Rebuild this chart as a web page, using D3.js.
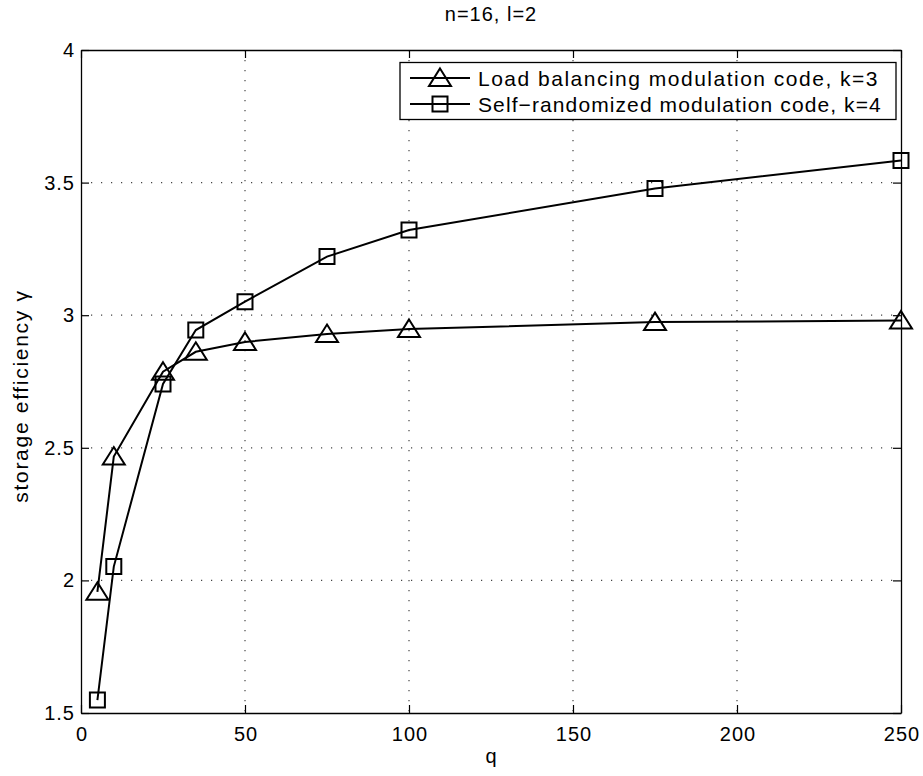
<!DOCTYPE html>
<html>
<head>
<meta charset="utf-8">
<script src="https://cdn.jsdelivr.net/npm/d3@7"></script>
<style>
  html, body { margin: 0; padding: 0; background: #fff; }
  svg { display: block; font-family: "Liberation Sans", Arial, Helvetica, sans-serif; }
</style>
</head>
<body>
<svg id="chart" width="923" height="776"></svg>
<script>
// Storage efficiency vs q for two modulation codes (n=16, l=2)
const qValues = [5, 10, 25, 35, 50, 75, 100, 175, 250];
const loadBalancing = [1.957, 2.467, 2.787, 2.862, 2.899, 2.929, 2.948, 2.974, 2.98];
const selfRandomized = [1.549, 2.052, 2.741, 2.944, 3.051, 3.221, 3.321, 3.478, 3.583];
const xTicks = [0, 50, 100, 150, 200, 250];
const yTicks = [1.5, 2, 2.5, 3, 3.5, 4];
const seriesNames = ["Load balancing modulation code, k=3", "Self\u2212randomized modulation code, k=4"];

const svg = d3.select("#chart");
const m = { left: 81, right: 901, top: 50, bottom: 713 };

const x = d3.scaleLinear().domain([0, 250]).range([m.left, m.right]);
const y = d3.scaleLinear().domain([1.5, 4]).range([m.bottom, m.top]);

// dotted grid at interior ticks
const grid = svg.append("g").attr("stroke", "#444").attr("stroke-width", 1.2)
  .attr("stroke-dasharray", "1.2,8.8");
grid.selectAll("line.gx").data(xTicks.slice(1, -1)).join("line")
  .attr("x1", d => x(d)).attr("x2", d => x(d))
  .attr("y1", m.top).attr("y2", m.bottom);
grid.selectAll("line.gy").data(yTicks.slice(1, -1)).join("line")
  .attr("x1", m.left).attr("x2", m.right)
  .attr("y1", d => y(d)).attr("y2", d => y(d));

// axes with inward ticks on all sides
const tickLen = 8;
const axB = svg.append("g").attr("transform", `translate(0,${m.bottom})`)
  .call(d3.axisBottom(x).tickValues(xTicks).tickSizeInner(-tickLen).tickSizeOuter(0).tickPadding(14));
const axT = svg.append("g").attr("transform", `translate(0,${m.top})`)
  .call(d3.axisTop(x).tickValues(xTicks).tickSizeInner(-tickLen).tickSizeOuter(0).tickFormat(""));
const axL = svg.append("g").attr("transform", `translate(${m.left},0)`)
  .call(d3.axisLeft(y).tickValues(yTicks).tickSizeInner(-tickLen).tickSizeOuter(0).tickPadding(6)
    .tickFormat(d3.format("~g")));
const axR = svg.append("g").attr("transform", `translate(${m.right},0)`)
  .call(d3.axisRight(y).tickValues(yTicks).tickSizeInner(-tickLen).tickSizeOuter(0).tickFormat(""));
[axB, axT, axL, axR].forEach(a => {
  a.select(".domain").attr("stroke", "#000").attr("stroke-width", 1.3);
  a.selectAll(".tick line").attr("stroke", "#000").attr("stroke-width", 1.2);
  a.selectAll("text").attr("fill", "#000").style("font-size", "20px").style("letter-spacing", "1px")
    .style("font-family", "'Liberation Sans', Arial, sans-serif");
});
axB.selectAll("text").attr("dx", "0.5px");

// series lines and markers
const line = d3.line().x((d, i) => x(qValues[i])).y(d => y(d));
const triPath = "M0,-9.5L11,8L-11,8Z";
const sqPath = "M-7.5,-7.5L7.5,-7.5L7.5,7.5L-7.5,7.5Z";

[[loadBalancing, triPath], [selfRandomized, sqPath]].forEach(([vals, shape]) => {
  svg.append("path").datum(vals).attr("d", line)
    .attr("fill", "none").attr("stroke", "#000").attr("stroke-width", 2);
  svg.append("g").selectAll("path").data(vals).join("path")
    .attr("transform", (d, i) => `translate(${x(qValues[i])},${y(d)})`)
    .attr("d", shape).attr("fill", "none").attr("stroke", "#000").attr("stroke-width", 2);
});

// legend
const lg = svg.append("g");
lg.append("rect").attr("x", 400).attr("y", 62.5).attr("width", 496).attr("height", 57)
  .attr("fill", "#fff").attr("stroke", "#000").attr("stroke-width", 1.3);
[triPath, sqPath].forEach((shape, i) => {
  const yy = 78 + i * 26;
  lg.append("line").attr("x1", 410).attr("x2", 470).attr("y1", yy).attr("y2", yy)
    .attr("stroke", "#000").attr("stroke-width", 2);
  lg.append("path").attr("transform", `translate(440,${yy})`).attr("d", shape)
    .attr("fill", "none").attr("stroke", "#000").attr("stroke-width", 2);
  lg.append("text").attr("x", 478).attr("y", yy + 7.5).text(seriesNames[i])
    .style("font-size", "21px").style("letter-spacing", i === 0 ? "1.5px" : "1.1px").attr("fill", "#000");
});

// title and axis labels
svg.append("text").attr("x", (m.left + m.right) / 2).attr("y", 21).attr("text-anchor", "middle")
  .style("font-size", "20px").style("letter-spacing", "1px").text("n=16, l=2");
svg.append("text").attr("x", (m.left + m.right) / 2).attr("y", 763).attr("text-anchor", "middle")
  .style("font-size", "20px").text("q");
svg.append("text").attr("transform", `translate(28,396) rotate(-90)`)
  .attr("text-anchor", "middle").style("font-size", "21px").style("letter-spacing", "1.7px")
  .text("storage efficiency \u03b3");
</script>
</body>
</html>
